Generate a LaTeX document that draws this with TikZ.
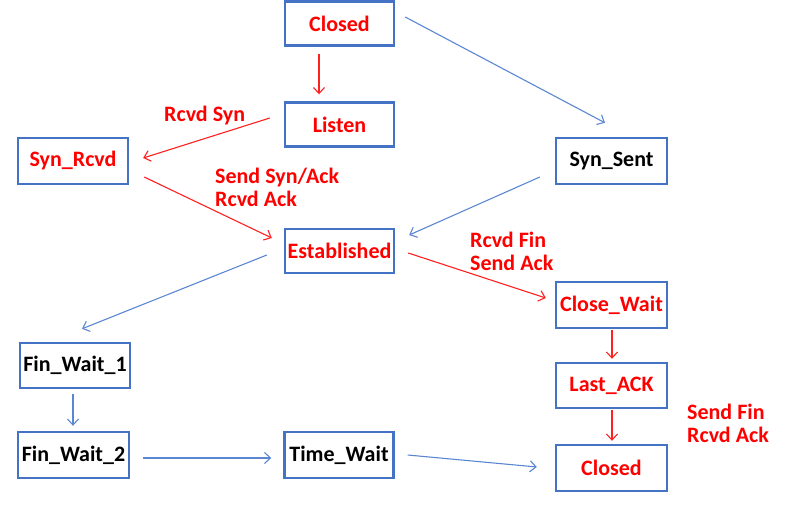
\documentclass[tikz,border=0pt]{standalone}
\usepackage{fontspec}
\setmainfont{Carlito}
\usetikzlibrary{arrows.meta,calc}
\definecolor{boxblue}{HTML}{4472C4}
\definecolor{lineblue}{HTML}{5B87D2}
\definecolor{tred}{HTML}{FF0000}
\definecolor{lred}{HTML}{FF2020}
\tikzset{
  state/.style={draw=boxblue, line width=2.4pt, minimum width=109pt, minimum height=44pt, inner sep=0pt, font=\fontsize{22}{24}\selectfont\bfseries},
  redtext/.style={text=tred},
  blktext/.style={text=black},
  lbl/.style={text=tred, font=\fontsize{22}{22.5}\selectfont\bfseries, align=left, inner sep=0pt, anchor=north west},
  redarr/.style={draw=lred, line width=1.1pt, -{Straight Barb[length=6pt,width=11pt]}},
  bluearr/.style={draw=lineblue, line width=1.1pt, -{Straight Barb[length=6pt,width=11pt]}}
}
\begin{document}
\begin{tikzpicture}[x=1pt,y=-1pt]
\useasboundingbox (0,0) rectangle (795,505);
% states
\node[state,redtext] (closedA) at (339.5,23.5) {Closed};
\node[state,redtext] (listen) at (339.5,124.5) {Listen};
\node[state,redtext,minimum width=110pt,minimum height=46pt] (synrcvd) at (73,161) {Syn\_Rcvd};
\node[state,redtext] (established) at (339.5,251) {Established};
\node[state,blktext,minimum width=111pt,minimum height=46pt] (synsent) at (611.5,161) {Syn\_Sent};
\node[state,blktext,minimum width=110pt,minimum height=45pt] (finwait1) at (75,365.5) {Fin\_Wait\_1};
\node[state,blktext,minimum width=111pt,minimum height=46pt] (finwait2) at (73.5,455) {Fin\_Wait\_2};
\node[state,blktext,minimum height=46pt] (timewait) at (339,455) {Time\_Wait};
\node[state,redtext,minimum width=111pt,minimum height=46pt] (closewait) at (611.5,305) {Close\_Wait};
\node[state,redtext,minimum width=111pt,minimum height=45pt] (lastack) at (611.5,385.5) {Last\_ACK};
\node[state,redtext,minimum width=111pt,minimum height=46pt] (closedB) at (611.5,468) {Closed};
% labels
\node[lbl] (l1) at (164,106) {Rcvd Syn};
\node[lbl] (l2) at (215,168) {Send Syn/Ack\\Rcvd Ack};
\node[lbl] (l3) at (470,232) {Rcvd Fin\\Send Ack};
\node[lbl] (l4) at (687,404) {Send Fin\\Rcvd Ack};
% connectors
\draw[redarr] ($(closedA.south)+(-20.5,7)$) -- ($(listen.north)+(-20.5,-7)$);
\draw[redarr] ($(listen.west)+(-14,-6.5)$) -- ($(synrcvd.east)+(14,-3)$);
\draw[redarr] ($(synrcvd.east)+(15,16)$) -- ($(established.west)+(-12,-13)$);
\draw[bluearr] ($(closedA.east)+(10,-6.5)$) -- ($(synsent.north)+(-6.5,-14)$);
\draw[bluearr] ($(synsent.west)+(-15,16)$) -- ($(established.east)+(14,-16)$);
\draw[bluearr] ($(established.west)+(-17,4)$) -- ($(finwait1.north)+(7,-13)$);
\draw[bluearr] ($(finwait1.south)+(-2,5)$) -- ($(finwait2.north)+(-0.5,-5)$);
\draw[bluearr] ($(finwait2.east)+(13,3)$) -- ($(timewait.west)+(-12,3)$);
\draw[bluearr] ($(timewait.east)+(13,0)$) -- ($(closedB.west)+(-18,-1)$);
\draw[redarr] ($(established.east)+(13,2)$) -- ($(closewait.west)+(-9,-7)$);
\draw[redarr] ($(closewait.south)+(0.5,1)$) -- ($(lastack.north)+(0.5,-3)$);
\draw[redarr] ($(lastack.south)+(0.5,1)$) -- ($(closedB.north)+(0.5,-3)$);
\end{tikzpicture}
\end{document}
